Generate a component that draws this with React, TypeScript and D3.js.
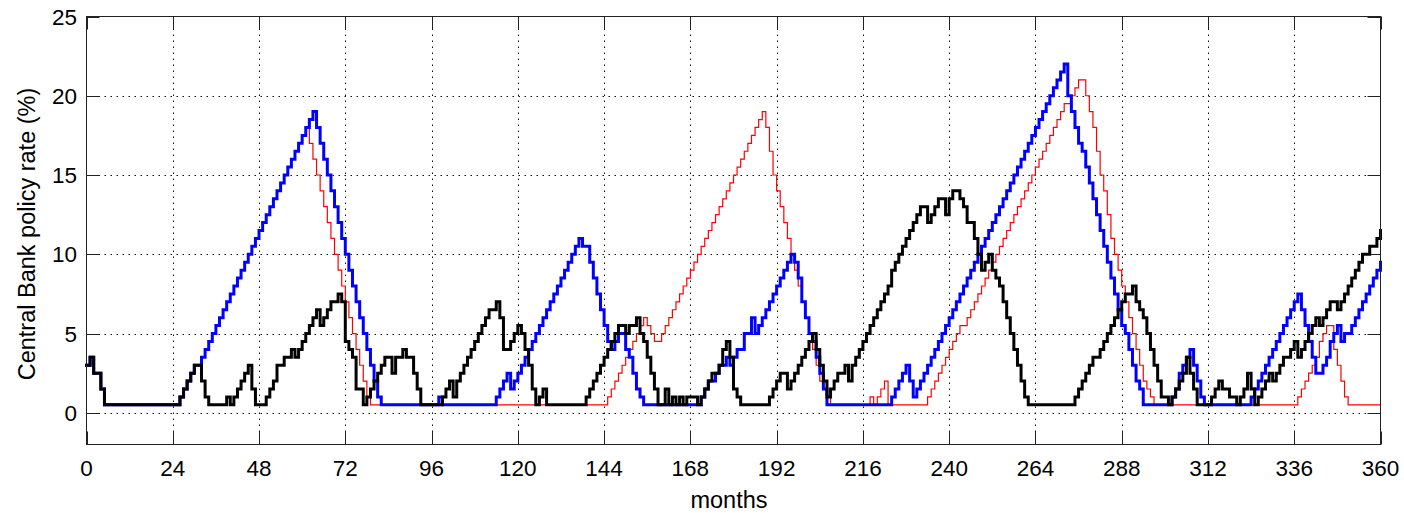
import React from "react";
import * as d3 from "d3";

// Canvas and plot frame
const WIDTH = 1404;
const HEIGHT = 513;
const FRAME = { left: 86.5, right: 1380.5, top: 16.5, bottom: 444.5 };
const FONT = "Arial, 'Liberation Sans', Helvetica, sans-serif";

// Axis ticks
const monthTicks = [0, 24, 48, 72, 96, 120, 144, 168, 192, 216, 240, 264, 288, 312, 336, 360];
const rateTicks = [0, 5, 10, 15, 20, 25];
const monthDomain: [number, number] = [0, 360];
const rateDomain: [number, number] = [-2, 25];

// Months 0-31: common history shared by all three policy paths
const sharedHistory = [
  3, 3.5, 2.5, 2.5, 1.5, 0.5, 0.5, 0.5, 0.5, 0.5,
  0.5, 0.5, 0.5, 0.5, 0.5, 0.5, 0.5, 0.5, 0.5, 0.5,
  0.5, 0.5, 0.5, 0.5, 0.5, 0.5, 1, 1.5, 2, 2.5,
  3, 3,
];

// Months 32-360, black path
const rateBlack = [
  2, 1, 0.5, 0.5, 0.5, 0.5, 0.5, 1, 0.5, 1, // 32
  1.5, 2, 2.5, 3, 1.5, 0.5, 0.5, 0.5, 1, 1.5, // 42
  2, 3, 3, 3.5, 3.5, 4, 3.5, 4, 4.5, 5, // 52
  5.5, 6, 6.5, 5.5, 6, 6.5, 7, 7, 7.5, 7, // 62
  4.5, 4, 3.5, 1.5, 1.5, 0.5, 1, 1.5, 2, 2.5, // 72
  3, 3.5, 3.5, 2.5, 3.5, 3.5, 4, 3.5, 3.5, 2.5, // 82
  1.5, 0.5, 0.5, 0.5, 0.5, 0.5, 0.5, 1, 1.5, 2, // 92
  1, 2, 2.5, 3, 3.5, 4, 4.5, 5, 5.5, 6, // 102
  6.5, 6.5, 7, 6, 4, 4, 4.5, 5, 5.5, 5, // 112
  4, 3, 1.5, 0.5, 1, 1.5, 0.5, 0.5, 0.5, 0.5, // 122
  0.5, 0.5, 0.5, 0.5, 0.5, 0.5, 0.5, 1, 1.5, 2, // 132
  2.5, 3, 3.5, 4, 4.5, 5, 5.5, 5.5, 5, 5.5, // 142
  5.5, 6, 5, 4.5, 3.5, 2.5, 1.5, 0.5, 0.5, 1.5, // 152
  0.5, 1, 0.5, 1, 0.5, 1, 1, 1, 0.5, 1, // 162
  1.5, 2, 2.5, 2.5, 3, 4, 4.5, 3.5, 1.5, 1, // 172
  0.5, 0.5, 0.5, 0.5, 0.5, 0.5, 0.5, 0.5, 1, 1.5, // 182
  2, 2.5, 2.5, 1.5, 2, 2.5, 3, 3.5, 4, 4.5, // 192
  5, 4, 3, 2, 1, 1.5, 2, 2.5, 2.5, 3, // 202
  2, 3, 3.5, 4, 4.5, 5, 5.5, 6, 6.5, 7, // 212
  7.5, 8, 9, 9.5, 10, 10.5, 11, 11.5, 12, 12.5, // 222
  13, 13, 12, 12.5, 13, 13.5, 13.5, 12.5, 13.5, 14, // 232
  14, 13.5, 13, 12, 12, 11, 10, 9, 9.5, 10, // 242
  9, 8.5, 8, 7, 6, 5, 4, 3, 2, 1, // 252
  0.5, 0.5, 0.5, 0.5, 0.5, 0.5, 0.5, 0.5, 0.5, 0.5, // 262
  0.5, 0.5, 0.5, 1, 1.5, 2, 2.5, 3, 3.5, 3.5, // 272
  4, 4.5, 5, 5.5, 6, 6.5, 7, 7.5, 7.5, 8, // 282
  7, 6.5, 6, 5, 4, 3, 2, 1, 1, 0.5, // 292
  1, 1.5, 2, 2.5, 3.5, 2.5, 1.5, 0.5, 0.5, 0.5, // 302
  0.5, 1, 1.5, 2, 1.5, 1.5, 1, 1, 0.5, 1, // 312
  1.5, 2.5, 1.5, 0.5, 1, 1.5, 2, 2.5, 2, 2.5, // 322
  3, 3.5, 3.5, 4, 4.5, 3.5, 4, 4.5, 5, 5.5, // 332
  6, 5.5, 6, 6.5, 7, 7, 6.5, 7, 7.5, 8, // 342
  8.5, 9, 9.5, 10, 10, 10.5, 10.5, 11, 11.5, // 352
];

// Months 32-360, blue path
const rateBlue = [
  3.5, 4, 4.5, 5, 5.5, 6, 6.5, 7, 7.5, 8, // 32
  8.5, 9, 9.5, 10, 10.5, 11, 11.5, 12, 12.5, 13, // 42
  13.5, 14, 14.5, 15, 15.5, 16, 16.5, 17, 17.5, 18, // 52
  18.5, 19, 18, 17, 16, 15, 14, 13, 12, 11, // 62
  10, 9, 8, 7, 6, 5, 4, 3, 2, 1, // 72
  0.5, 0.5, 0.5, 0.5, 0.5, 0.5, 0.5, 0.5, 0.5, 0.5, // 82
  0.5, 0.5, 0.5, 0.5, 0.5, 0.5, 1, 0.5, 0.5, 0.5, // 92
  0.5, 0.5, 0.5, 0.5, 0.5, 0.5, 0.5, 0.5, 0.5, 0.5, // 102
  0.5, 0.5, 1, 1.5, 2, 2.5, 1.5, 2, 2.5, 3, // 112
  3.5, 4, 4.5, 5, 5.5, 6, 6.5, 7, 7.5, 8, // 122
  8.5, 9, 9.5, 10, 10.5, 11, 10.5, 10.5, 9.5, 8.5, // 132
  7.5, 6.5, 5.5, 4.5, 4, 4.5, 5, 5, 4, 3.5, // 142
  2.5, 1.5, 1, 0.5, 0.5, 0.5, 0.5, 0.5, 0.5, 0.5, // 152
  0.5, 0.5, 0.5, 0.5, 0.5, 0.5, 0.5, 0.5, 0.5, 1, // 162
  1.5, 2, 2, 2.5, 3, 3, 3.5, 3, 3.5, 4, // 172
  4, 5, 5, 6, 5, 5.5, 6, 6.5, 7, 7.5, // 182
  8, 8.5, 9, 9.5, 10, 9.5, 8.5, 7, 6, 5, // 192
  4.5, 3.5, 2.5, 1.5, 0.5, 0.5, 0.5, 0.5, 0.5, 0.5, // 202
  0.5, 0.5, 0.5, 0.5, 0.5, 0.5, 0.5, 0.5, 0.5, 0.5, // 212
  0.5, 0.5, 1, 1.5, 2, 2.5, 3, 2, 1, 1.5, // 222
  2, 2.5, 3, 3.5, 4, 4.5, 5, 5.5, 6, 6.5, // 232
  7, 7.5, 8, 8.5, 9, 9.5, 10, 10.5, 11, 11.5, // 242
  12, 12.5, 13, 13.5, 14, 14.5, 15, 15.5, 16, 16.5, // 252
  17, 17.5, 18, 18.5, 19, 19.5, 20, 20.5, 21, 21.5, // 262
  22, 20, 19, 18, 17, 16.5, 15.5, 14.5, 13.5, 12.5, // 272
  11.5, 10.5, 9.5, 8.5, 7.5, 6.5, 5.5, 5, 4, 3, // 282
  2, 1.5, 0.5, 0.5, 0.5, 0.5, 0.5, 0.5, 0.5, 0.5, // 292
  1, 1.5, 2.5, 3, 3.5, 4, 3, 2, 1, 0.5, // 302
  0.5, 0.5, 0.5, 0.5, 0.5, 0.5, 0.5, 0.5, 0.5, 0.5, // 312
  0.5, 0.5, 1, 1.5, 2, 2.5, 3, 3.5, 4, 4.5, // 322
  5, 5.5, 6, 6.5, 7, 7.5, 6.5, 5.5, 4.5, 3.5, // 332
  2.5, 2.5, 3, 3.5, 4.5, 5, 5.5, 4.5, 5, 5, // 342
  5.5, 6, 6.5, 7, 7.5, 8, 8.5, 9, 9.5, // 352
];

// Months 32-360, red path
const rateRed = [
  3.5, 4, 4.5, 5, 5.5, 6, 6.5, 7, 7.5, 8, // 32
  8.5, 9, 9.5, 10, 10.5, 11, 11.5, 12, 12.5, 13, // 42
  13.5, 14, 14.5, 15, 15.5, 16, 16.5, 17, 17.5, 18, // 52
  17, 16, 15, 14, 13, 12, 11, 10, 9, 8, // 62
  7, 6, 5, 4, 3, 2, 1, 0.5, 0.5, 0.5, // 72
  0.5, 0.5, 0.5, 0.5, 0.5, 0.5, 0.5, 0.5, 0.5, 0.5, // 82
  0.5, 0.5, 0.5, 0.5, 0.5, 0.5, 0.5, 0.5, 0.5, 0.5, // 92
  0.5, 0.5, 0.5, 0.5, 0.5, 0.5, 0.5, 0.5, 0.5, 0.5, // 102
  0.5, 0.5, 0.5, 0.5, 0.5, 0.5, 0.5, 0.5, 0.5, 0.5, // 112
  0.5, 0.5, 0.5, 0.5, 0.5, 0.5, 0.5, 0.5, 0.5, 0.5, // 122
  0.5, 0.5, 0.5, 0.5, 0.5, 0.5, 0.5, 0.5, 0.5, 0.5, // 132
  0.5, 0.5, 0.5, 1, 1.5, 2, 2.5, 3, 3.5, 4, // 142
  4.5, 5, 5.5, 6, 5.5, 5, 4.5, 4.5, 5, 5.5, // 152
  6, 6.5, 7, 7.5, 8, 8.5, 9, 9.5, 10, 10.5, // 162
  11, 11.5, 12, 12.5, 13, 13.5, 14, 14.5, 15, 15.5, // 172
  16, 16.5, 17, 17.5, 18, 18.5, 19, 18, 16.5, 15, // 182
  14, 13, 12, 11, 10, 9, 8, 7, 6, 5, // 192
  4, 3, 2, 1.5, 1, 0.5, 0.5, 0.5, 0.5, 0.5, // 202
  0.5, 0.5, 0.5, 0.5, 0.5, 0.5, 1, 0.5, 1, 1.5, // 212
  2, 0.5, 0.5, 0.5, 0.5, 0.5, 0.5, 0.5, 0.5, 0.5, // 222
  0.5, 0.5, 1, 1.5, 2, 2.5, 3, 3.5, 4, 4.5, // 232
  5, 5.5, 5.5, 6, 6.5, 7, 7.5, 8, 8.5, 9, // 242
  9.5, 10, 10.5, 11, 11.5, 12, 12.5, 13, 13.5, 14, // 252
  14.5, 15, 15.5, 16, 16.5, 17, 17.5, 18, 18.5, 19, // 262
  19.5, 19.5, 20, 20.5, 21, 21, 20, 19, 18, 16.5, // 272
  15, 14, 12.5, 11, 10, 9, 8, 7, 6, 5, // 282
  4, 3, 2, 1.5, 1, 0.5, 0.5, 0.5, 0.5, 0.5, // 292
  0.5, 0.5, 0.5, 0.5, 0.5, 0.5, 0.5, 0.5, 0.5, 0.5, // 302
  0.5, 0.5, 0.5, 0.5, 0.5, 0.5, 0.5, 0.5, 0.5, 0.5, // 312
  0.5, 0.5, 0.5, 0.5, 0.5, 0.5, 0.5, 0.5, 0.5, 0.5, // 322
  0.5, 0.5, 0.5, 0.5, 0.5, 1, 1.5, 2, 2.5, 3, // 332
  3.5, 4.5, 5, 5.5, 5.5, 4, 3, 2, 1, 0.5, // 342
  0.5, 0.5, 0.5, 0.5, 0.5, 0.5, 0.5, 0.5, 0.5, // 352
];

// Drawing order: red underneath, blue, black on top
const seriesStyles = [
  { values: rateRed, color: "#ff0000", width: 1.2 },
  { values: rateBlue, color: "#0000ff", width: 3 },
  { values: rateBlack, color: "#000000", width: 3 },
];

const TICK_LEN = 13;

export default function App() {
  const x = d3.scaleLinear().domain(monthDomain).range([FRAME.left, FRAME.right]);
  const y = d3.scaleLinear().domain(rateDomain).range([FRAME.bottom, FRAME.top]);

  const stairs = d3
    .line<[number, number]>()
    .x((d) => x(d[0]))
    .y((d) => y(d[1]))
    .curve(d3.curveStepAfter);

  const innerMonthTicks = monthTicks.filter((m) => m > monthDomain[0] && m < monthDomain[1]);
  const innerRateTicks = rateTicks.filter((r) => r > rateDomain[0] && r < rateDomain[1]);

  return (
    <div style={{ position: "absolute", left: 0, top: 0 }}>
      <svg width={WIDTH} height={HEIGHT} style={{ display: "block", background: "#fff" }}>
        {/* dotted grid */}
        <g stroke="#111" strokeWidth={1} strokeDasharray="1.5 4.5" fill="none">
          {innerMonthTicks.map((m) => (
            <line key={`gx${m}`} x1={Math.round(x(m)) + 0.5} x2={Math.round(x(m)) + 0.5} y1={FRAME.top} y2={FRAME.bottom} />
          ))}
          {innerRateTicks.map((r) => (
            <line key={`gy${r}`} x1={FRAME.left} x2={FRAME.right} y1={Math.round(y(r)) + 0.5} y2={Math.round(y(r)) + 0.5} />
          ))}
        </g>

        {/* tick marks on all four sides, pointing inward */}
        <g stroke="#222" strokeWidth={1}>
          {monthTicks.map((m) => {
            const px = Math.round(x(m)) + 0.5;
            return (
              <g key={`tx${m}`}>
                <line x1={px} x2={px} y1={FRAME.bottom} y2={FRAME.bottom - TICK_LEN} />
                <line x1={px} x2={px} y1={FRAME.top} y2={FRAME.top + TICK_LEN} />
              </g>
            );
          })}
          {rateTicks.map((r) => {
            const py = Math.round(y(r)) + 0.5;
            return (
              <g key={`ty${r}`}>
                <line x1={FRAME.left} x2={FRAME.left + TICK_LEN} y1={py} y2={py} />
                <line x1={FRAME.right} x2={FRAME.right - TICK_LEN} y1={py} y2={py} />
              </g>
            );
          })}
        </g>

        {/* policy-rate paths */}
        {seriesStyles.map((s, i) => {
          const pts: [number, number][] = sharedHistory.concat(s.values).map((v, m) => [m, v]);
          return (
            <path
              key={`s${i}`}
              d={stairs(pts) || ""}
              fill="none"
              stroke={s.color}
              strokeWidth={s.width}
              strokeLinejoin="miter"
              strokeLinecap="square"
            />
          );
        })}

        {/* axes box */}
        <rect
          x={FRAME.left}
          y={FRAME.top}
          width={FRAME.right - FRAME.left}
          height={FRAME.bottom - FRAME.top}
          fill="none"
          stroke="#222"
          strokeWidth={1}
        />

        {/* tick labels */}
        <g fontFamily={FONT} fontSize={22.5} fill="#000">
          {monthTicks.map((m) => (
            <text key={`lx${m}`} x={x(m)} y={476} textAnchor="middle">
              {m}
            </text>
          ))}
          {rateTicks.map((r) => (
            <text key={`ly${r}`} x={77} y={y(r)} dy="0.36em" textAnchor="end">
              {r}
            </text>
          ))}
        </g>

        {/* axis titles */}
        <text x={729} y={508} textAnchor="middle" fontFamily={FONT} fontSize={23.5} fill="#000">
          months
        </text>
        <text
          transform={`translate(35, 234) rotate(-90)`}
          textAnchor="middle"
          fontFamily={FONT}
          fontSize={23.5}
          fill="#000"
        >
          Central Bank policy rate (%)
        </text>
      </svg>
    </div>
  );
}
